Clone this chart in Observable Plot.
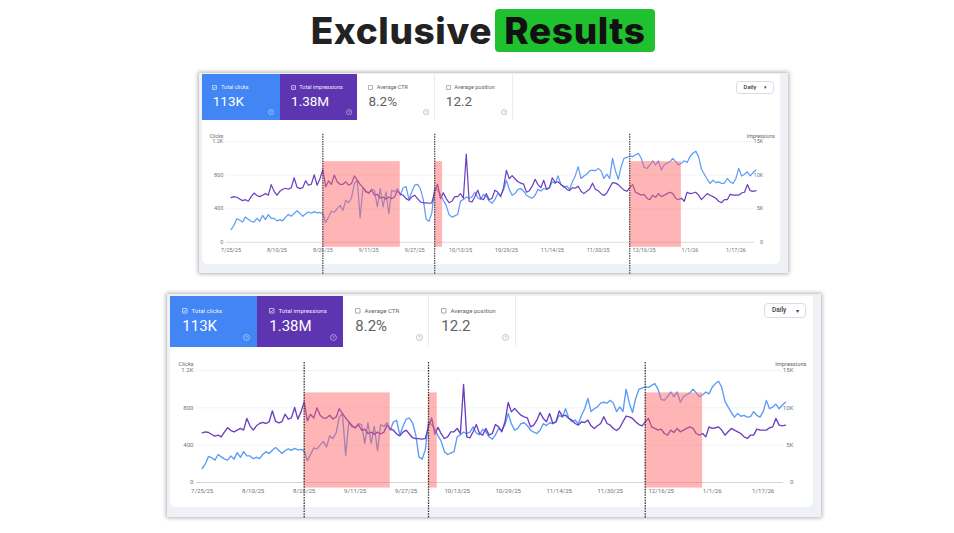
<!DOCTYPE html>
<html><head><meta charset="utf-8">
<script src="https://cdn.jsdelivr.net/npm/d3@7"></script>
<script src="https://cdn.jsdelivr.net/npm/@observablehq/plot@0.6"></script>
<style>
body{margin:0;background:#fff;}
#root{position:relative;width:954px;height:533px;overflow:hidden;font-family:Roboto,sans-serif;}
.abs{position:absolute;box-sizing:border-box;}
</style></head><body><div id="root"></div>
<script>
// ---------- data ----------
const startDate = "2025-07-25";
const clicks = [
150,200,280,265,240,300,275,250,240,285,
250,320,270,330,285,285,255,270,255,300,
330,310,345,375,345,310,340,360,345,365,
350,355,340,235,300,370,360,400,440,380,
500,470,530,700,740,290,650,614,579,632,
620,420,640,420,600,340,620,600,640,560,
650,665,510,600,680,690,640,510,275,250,
350,650,620,570,500,440,330,300,315,330,
490,510,540,525,540,596,530,510,570,543,
490,464,510,580,560,620,739,630,560,580,
630,640,610,560,540,525,560,630,610,640,
630,650,720,700,790,690,650,670,630,720,
790,900,760,790,810,850,860,850,880,850,
760,810,760,1000,850,750,900,1000,1010,1025,
1020,1040,1060,1000,890,880,920,970,920,970,
860,920,940,960,1000,960,920,940,970,950,
1020,1060,1085,1020,870,810,750,700,740,710,
720,700,705,760,720,700,760,880,790,810,
840,790,830,860];
const impressions = [
6650,6790,6700,6430,6200,6340,6110,6790,7330,6960,
6790,7010,7240,7010,8580,7590,7010,7590,7900,8040,
7900,8130,9600,8210,7990,8130,9150,8490,8660,10050,
8490,9460,10800,8250,9130,8630,10000,9000,8630,8630,
9000,8500,8750,9880,9250,8630,8130,7500,7380,7750,
7000,7130,6560,6750,6440,6750,6500,6750,7680,7190,
7000,6500,6250,6750,7010,6500,6000,5880,5880,5810,
5880,7500,8630,6500,7380,6500,5890,6110,6790,6790,
7240,6560,13130,6110,5990,6790,7760,6560,6340,7240,
6340,6560,7760,7450,6790,8130,10710,9460,9910,9460,
9010,8800,8660,7450,7680,8350,9380,8580,8130,9240,
7900,8130,9600,8890,9010,8580,8350,7900,7680,8130,
8040,8350,7590,7240,7590,7900,8800,7900,7680,7240,
6960,7330,8130,8890,8800,8580,8130,7760,7590,8130,
8580,7450,7240,7010,7140,6560,6340,7010,6700,7240,
6790,7010,7240,7450,7240,6560,6340,6560,6110,7450,
7240,7330,7450,7010,6340,6790,7240,7010,6790,6560,
6110,5890,6340,6340,7140,7010,7010,7010,7330,7450,
8580,7680,7590,7680];
const dateTickLabels = ["7/25/25","8/10/25","8/26/25","9/11/25","9/27/25","10/13/25","10/29/25","11/14/25","11/30/25","12/16/25","1/1/26","1/17/26"];
const clickTicks = [0, 400, 800, 1200];
const clickTickLabels = ["0", "400", "800", "1.2K"];
const impressionTicks = [0, 5000, 10000, 15000];
const impressionTickLabels = ["0", "5K", "10K", "15K"];
const markerDates = ["2025-08-26", "2025-10-04", "2025-12-11"];
const highlightStarts = ["2025-08-26", "2025-10-04", "2025-12-11"];
const highlightEnds = ["2025-09-22", "2025-10-06T18:00", "2025-12-29"];
const summaryLabels = ["Total clicks", "Total impressions", "Average CTR", "Average position"];
const summaryValues = ["113K", "1.38M", "8.2%", "12.2"];

// ---------- helpers ----------
const DAY = 864e5;
const t0 = new Date(startDate + "T00:00:00Z").getTime();
const day = i => new Date(t0 + i * DAY);
const rows = clicks.map((c, i) => ({date: day(i), clicks: c, impressions: impressions[i]}));
const ratio = clickTicks[3] / impressionTicks[3];
const parseMDY = s => { const [m, d, y] = s.split("/").map(Number); return new Date(Date.UTC(2000 + y, m - 1, d)); };
const tickDates = dateTickLabels.map(parseMDY);
const highlights = highlightStarts.map((s, i) => ({start: new Date(s + "Z"), end: new Date(highlightEnds[i] + (highlightEnds[i].includes("T") ? "Z" : "T00:00Z"))}));
const markers = markerDates.map(s => new Date(s + "T00:00Z"));

const root = document.getElementById("root");
function el(parent, css, html) {
  const d = document.createElement("div");
  d.className = "abs";
  Object.assign(d.style, css);
  if (html != null) d.innerHTML = html;
  parent.appendChild(d);
  return d;
}

// ---------- title ----------
el(root, {right: (954 - 492) + "px", top: "9px", height: "43px", lineHeight: "43px", fontFamily: "Inter, sans-serif", fontWeight: "800", fontSize: "37px", color: "#222", letterSpacing: "0.6px", whiteSpace: "nowrap"}, "Exclusive");
el(root, {left: "495px", top: "9px", width: "160px", height: "43px", lineHeight: "43px", background: "#1fc22e", borderRadius: "4px", textAlign: "center", fontFamily: "Inter, sans-serif", fontWeight: "800", fontSize: "37px", color: "#111", letterSpacing: "0.6px", whiteSpace: "nowrap"}, "Results");

// ---------- chart ----------
function chart(s) {
  const fs = 6.1 * s;
  return Plot.plot({
    width: 643 * s, height: 167 * s,
    marginLeft: 31.7 * s, marginRight: 28 * s, marginTop: 20 * s, marginBottom: 35 * s,
    style: {fontFamily: "Roboto, sans-serif", fontSize: fs + "px", color: "#70757a", background: "transparent", overflow: "visible"},
    x: {type: "utc", domain: [day(0), day(clicks.length - 1)], label: null},
    y: {domain: [0, clickTicks[3]], label: null},
    marks: [
      Plot.ruleY(clickTicks.slice(1), {x1: () => day(-1.8), x2: () => day(182.4), stroke: "#eef0f2", strokeWidth: 0.8 * s}),
      Plot.ruleY([0], {x1: () => day(-1.8), x2: () => day(182.4), stroke: "#cfd2d6", strokeWidth: 0.9 * s}),
      Plot.line(rows, {x: "date", y: "clicks", stroke: "#5b9bf6", strokeWidth: 1.35 * s}),
      Plot.line(rows, {x: "date", y: d => d.impressions * ratio, stroke: "#6a3fc0", strokeWidth: 1.35 * s}),
      Plot.rect(highlights, {x1: "start", x2: "end", y1: () => -60, y2: () => 960, fill: "#ff6464", fillOpacity: 0.48}),
      Plot.ruleX(markers, {x: d => d, y1: () => -380, y2: () => 1285, stroke: "#3a3a3a", strokeWidth: 1.3 * s, strokeDasharray: `${1.6 * s},${1.1 * s}`}),
      Plot.axisY({anchor: "left", ticks: clickTicks, tickFormat: d => clickTickLabels[clickTicks.indexOf(d)], tickSize: 0, tickPadding: 8.7 * s, label: null, fontSize: fs}),
      Plot.axisY({anchor: "right", ticks: clickTicks, tickFormat: d => impressionTickLabels[clickTicks.indexOf(d)], tickSize: 0, tickPadding: 8 * s, textAnchor: "end", label: null, fontSize: fs}),
      Plot.axisX({ticks: tickDates, tickFormat: d => dateTickLabels[tickDates.findIndex(t => +t === +d)], tickSize: 0, tickPadding: 6.5 * s, label: null, fontSize: fs}),
      Plot.text(["Clicks"], {frameAnchor: "top-left", text: d => d, dx: -23.7 * s, dy: -8.3 * s, textAnchor: "start", fontSize: 5.7 * s, fill: "#5f6368"}),
      Plot.text(["Impressions"], {frameAnchor: "top-right", text: d => d, dx: 21 * s, dy: -8.3 * s, textAnchor: "end", fontSize: 5.7 * s, fill: "#5f6368"})
    ]
  });
}

function checkbox(color, checked, sz) {
  return `<svg width="${sz}" height="${sz}" viewBox="0 0 10 10" style="display:block"><rect x="0.8" y="0.8" width="8.4" height="8.4" rx="1" fill="none" stroke="${color}" stroke-width="1.2"/>` +
    (checked ? `<path d="M2.6 5.1 L4.3 6.8 L7.5 3.3" fill="none" stroke="${color}" stroke-width="1.2"/>` : "") + `</svg>`;
}
function help(color, sz) {
  return `<svg width="${sz}" height="${sz}" viewBox="0 0 10 10" style="display:block"><circle cx="5" cy="5" r="4.2" fill="none" stroke="${color}" stroke-width="0.9"/><text x="5" y="7.2" text-anchor="middle" font-size="6.2" font-family="Roboto" fill="${color}">?</text></svg>`;
}

function panel(left, top, s) {
  const outer = el(root, {left: left + "px", top: top + "px", width: 654 * s + "px", height: 223 * s + "px", background: "#eef1f5", boxShadow: "0 0 4px 1px rgba(0,0,0,0.30)"});
  const inner = el(outer, {left: 3 * s + "px", top: 2 * s + "px", width: 643 * s + "px", height: 211 * s + "px", background: "#fff", borderRadius: `0 0 ${6 * s}px ${6 * s}px`});
  const tx = [0, 87, 173, 259], tw = [87, 86, 86, 87];
  const bg = ["#4285f4", "#5e35b1", "#fff", "#fff"];
  summaryLabels.forEach((lab, i) => {
    const colored = i < 2;
    const fg = colored ? "#fff" : "#5f6368";
    const tile = el(inner, {left: tx[i] * s + "px", top: "0px", width: tw[i] * s + "px", height: 51 * s + "px", background: bg[i], borderRight: colored ? "none" : "1px solid #ececec"});
    el(tile, {left: 12 * s + "px", top: 12 * s + "px", width: 5.5 * s + "px", height: 5.5 * s + "px"}, checkbox(colored ? "#fff" : "#777", colored, 5.5 * s));
    el(tile, {left: 21.5 * s + "px", top: 10.5 * s + "px", fontSize: 6.1 * s + "px", lineHeight: 8 * s + "px", color: colored ? "rgba(255,255,255,0.95)" : "#5f6368", whiteSpace: "nowrap"}, lab);
    el(tile, {left: 12.3 * s + "px", top: 20 * s + "px", fontSize: 15 * s + "px", lineHeight: 20 * s + "px", color: colored ? "#fff" : "#616161", whiteSpace: "nowrap"}, summaryValues[i]);
    el(tile, {left: 73.2 * s + "px", top: 38.2 * s + "px", width: 7 * s + "px", height: 7 * s + "px"}, help(colored ? "rgba(255,255,255,0.75)" : "#9aa0a6", 7 * s));
  });
  el(inner, {left: 594 * s + "px", top: 7.3 * s + "px", width: 41.7 * s + "px", height: 15 * s + "px", border: "1px solid #dadce0", borderRadius: 4 * s + "px", fontSize: 6.5 * s + "px", lineHeight: 13 * s + "px", color: "#3c4043", fontWeight: "500", paddingLeft: 7 * s + "px", whiteSpace: "nowrap"},
    `Daily<span style="position:absolute;right:${6 * s}px;font-size:${6 * s}px">▾</span>`);
  const svg = chart(s);
  const holder = el(outer, {left: 3 * s + "px", top: 56 * s + "px", width: 643 * s + "px", height: 167 * s + "px", overflow: "visible"});
  holder.appendChild(svg);
}

panel(199, 72.5, 0.9);
panel(167, 294, 1);
</script></body></html>
